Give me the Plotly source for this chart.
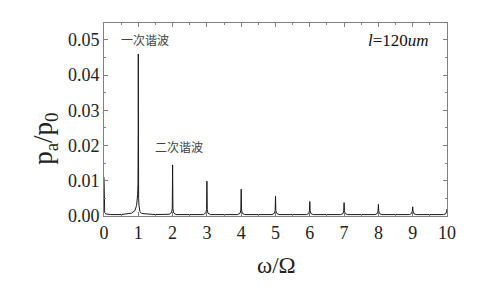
import plotly.graph_objects as go

# spectrum samples (omega/Omega, p_a/p_0)
x_vals = [0.0, 0.005, 0.01, 0.02, 0.05, 0.2, 0.5, 0.8, 0.9, 0.95, 0.98, 0.99, 0.997, 1.0, 1.003, 1.01, 1.02, 1.05, 1.1, 1.5,
          1.9, 1.97, 1.99, 2.0, 2.01, 2.03, 2.1,
          2.9, 2.97, 2.99, 3.0, 3.01, 3.03, 3.1,
          3.9, 3.97, 3.99, 4.0, 4.01, 4.03, 4.1,
          4.9, 4.97, 4.99, 5.0, 5.01, 5.03, 5.1,
          5.9, 5.97, 5.99, 6.0, 6.01, 6.03, 6.1,
          6.9, 6.97, 6.99, 7.0, 7.01, 7.03, 7.1,
          7.9, 7.97, 7.99, 8.0, 8.01, 8.03, 8.1,
          8.9, 8.97, 8.99, 9.0, 9.01, 9.03, 9.1,
          9.9, 9.97, 9.99, 10.0]
y_vals = [0.0110, 0.0040, 0.0020, 0.0010, 0.0006, 0.0004, 0.0004, 0.0008, 0.0015, 0.0030, 0.0060, 0.0090, 0.0235, 0.0460, 0.0090, 0.0050, 0.0030, 0.0012, 0.0007, 0.0004,
          0.0005, 0.0010, 0.0020, 0.0145, 0.0020, 0.0009, 0.0004,
          0.0004, 0.0009, 0.0018, 0.0099, 0.0018, 0.0008, 0.0004,
          0.0004, 0.0008, 0.0017, 0.0076, 0.0017, 0.0008, 0.0004,
          0.0004, 0.0008, 0.0016, 0.0057, 0.0016, 0.0008, 0.0004,
          0.0004, 0.0007, 0.0015, 0.0041, 0.0015, 0.0007, 0.0004,
          0.0004, 0.0007, 0.0015, 0.0038, 0.0015, 0.0007, 0.0004,
          0.0004, 0.0007, 0.0014, 0.0033, 0.0014, 0.0007, 0.0004,
          0.0004, 0.0007, 0.0014, 0.0026, 0.0014, 0.0007, 0.0004,
          0.0004, 0.0007, 0.0014, 0.0020]

x_ticks = [0, 1, 2, 3, 4, 5, 6, 7, 8, 9, 10]
y_ticks = [0.00, 0.01, 0.02, 0.03, 0.04, 0.05]

FONT = "Times New Roman, Liberation Serif, DejaVu Serif, serif"
CJK = "Noto Sans CJK SC"

fig = go.Figure()
fig.add_trace(go.Scatter(x=x_vals, y=y_vals, mode="lines",
                         line=dict(color="#1a1a1a", width=1), showlegend=False))

axis_common = dict(showline=True, linecolor="#808080", linewidth=1, mirror="ticks",
                   ticks="inside", ticklen=4, tickcolor="#808080", showgrid=False,
                   zeroline=False, tickfont=dict(family=FONT, size=18, color="#222"))

fig.update_xaxes(range=[0, 10], tickvals=x_ticks, ticktext=[str(v) for v in x_ticks],
                 minor=dict(dtick=0.5, ticks="inside", ticklen=2, tickcolor="#808080"),
                 **axis_common)
fig.update_yaxes(range=[0, 0.0548], tickvals=y_ticks, ticktext=[f"{v:.2f}" for v in y_ticks],
                 minor=dict(dtick=0.005, ticks="inside", ticklen=2, tickcolor="#808080"),
                 **axis_common)

# axis titles
fig.add_annotation(x=0.504, y=-0.255, xref="paper", yref="paper", text="ω/Ω", showarrow=False,
                   xanchor="center", yanchor="middle",
                   font=dict(family=FONT, size=23, color="#222"))
fig.add_annotation(x=-0.172, y=0.40, xref="paper", yref="paper", text="p<sub>a</sub>/p<sub>0</sub>",
                   showarrow=False, textangle=-90, xanchor="center", yanchor="middle",
                   font=dict(family=FONT, size=27, color="#222"))

fig.add_annotation(x=0.43, y=0.0500, xref="x", yref="y", text="一次谐波", showarrow=False,
                   xanchor="left", font=dict(family=CJK, size=12, color="#444"))
fig.add_annotation(x=1.42, y=0.0198, xref="x", yref="y", text="二次谐波", showarrow=False,
                   xanchor="left", font=dict(family=CJK, size=12, color="#444"))
fig.add_annotation(x=7.65, y=0.0497, xref="x", yref="y", text="<i>l</i>=120<i>um</i>", showarrow=False,
                   xanchor="left", font=dict(family=FONT, size=17, color="#111"))

# the page body adds an 8px offset, so margins are shifted accordingly
fig.update_layout(width=480, height=293, margin=dict(l=96, r=41, t=15, b=85),
                  paper_bgcolor="white", plot_bgcolor="white")
fig.write_html("out.html")
